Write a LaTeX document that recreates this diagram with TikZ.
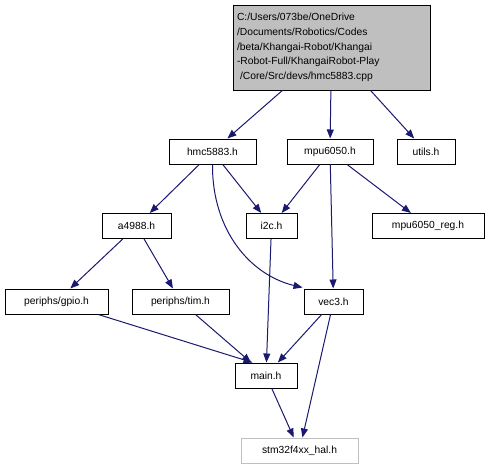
\documentclass[tikz,border=0pt]{standalone}
\usepackage{fontspec}
\setmainfont{Liberation Sans}
\usepackage{tikz}
\usetikzlibrary{
	arrows.meta,
	positioning
}
\usepackage{xcolor}
\definecolor{edgeblue}{HTML}{191970}
\definecolor{boxgray}{HTML}{BFBFBF}

\begin{document}
\begin{tikzpicture}[>={Stealth[length=9pt,width=7pt,inset=0pt]}, x=1pt, y=-1pt,
	file/.style={draw, line width=1pt, fill=white, minimum height=25pt, inner sep=0pt,
		font=\fontsize{10.3}{12}\selectfont},
	dep/.style={->, draw=edgeblue, line width=1pt}]
			
			\useasboundingbox (0,0) rectangle (488,469);
			
			\node[file, fill=boxgray, minimum width=197pt, minimum height=85pt, inner xsep=4pt,
				text width=189pt, align=left,
				font=\fontsize{10.3}{14.8}\selectfont] (src) at (331.5,47.5)
				{C:/Users/073be/OneDrive\\/Documents/Robotics/Codes\\/beta/Khangai-Robot/Khangai\\-Robot-Full/KhangaiRobot-Play\\\hspace*{3pt}/Core/Src/devs/hmc5883.cpp};
			
			\node[file, minimum width=87pt] (hmc) at (212.5,151.5){hmc5883.h};
			\node[file, minimum width=86pt] (mpu) at (330,151.5){mpu6050.h};
			\node[file, minimum width=58pt] (utils) at (426,151.5){utils.h};
			
			\node[file, minimum width=69pt] (a4988) at (136.5,226){a4988.h};
			\node[file, minimum width=51pt] (i2c) at (271.5,226){i2c.h};
			\node[file, minimum width=112pt] (mpureg) at (428,226){mpu6050\_reg.h};
			
			\node[file, minimum width=103pt] (gpio) at (56.5,301.5){periphs/gpio.h};
			\node[file, minimum width=97pt] (tim) at (180.5,301.5){periphs/tim.h};
			\node[file, minimum width=59pt] (vec3) at (333.5,301.5){vec3.h};
			
			\node[file, minimum width=62pt] (main) at (266,375.5){main.h};
			\node[file, draw=boxgray, minimum width=117pt] (hal) at (299.5,450.5){stm32f4xx\_hal.h};
			
			\draw[dep] (src) -- (hmc);
			\draw[dep] (src) -- (mpu);
			\draw[dep] (src) -- (utils);
			
			\draw[dep] (hmc) -- (a4988);
			\draw[dep] (hmc) -- (i2c);
			\draw[dep] (hmc.south) .. controls (212,230) and (250,275) .. ([xshift=-1pt,yshift=1pt]vec3.north west);
			\draw[dep] (mpu) -- (i2c);
			\draw[dep] (mpu) -- (vec3);
			\draw[dep] (mpu) -- (mpureg);
			
			\draw[dep] (a4988) -- (gpio);
			\draw[dep] (a4988) -- (tim);
			\draw[dep] (i2c) -- (main);
			
			\draw[dep] (gpio) -- ([xshift=18pt]main.north west);
			\draw[dep] (tim) -- (main);
			\draw[dep] (vec3) -- (main);
			\draw[dep] (vec3) -- (hal);
			\draw[dep] (main) -- (hal);
			
		\end{tikzpicture}
\end{document}
